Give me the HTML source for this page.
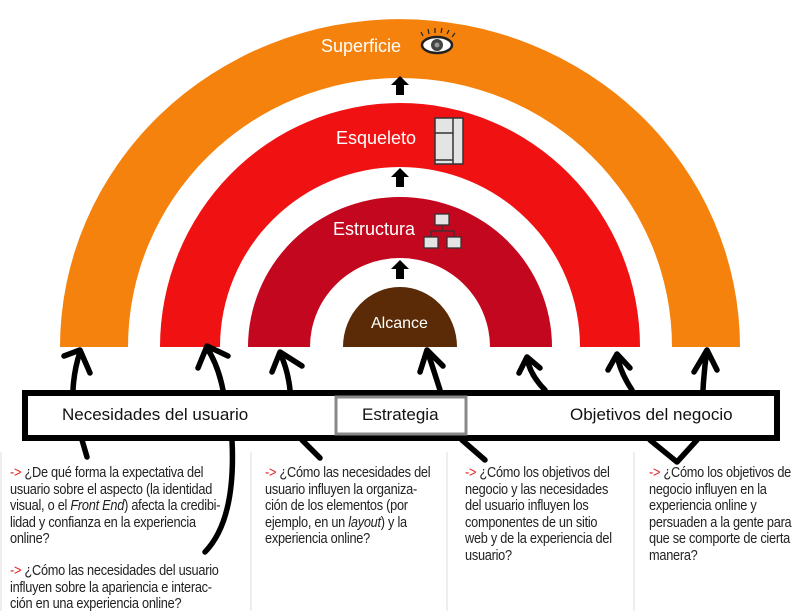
<!DOCTYPE html>
<html><head><meta charset="utf-8"><style>
body{margin:0;background:#fff;width:800px;height:611px;overflow:hidden;position:relative;font-family:"Liberation Sans",sans-serif}
svg{position:absolute;left:0;top:0}
.t{position:absolute;font-size:14.5px;line-height:16.5px;color:#222;transform-origin:0 0;transform:scaleX(0.88);white-space:nowrap;letter-spacing:-0.3px}
.t b{color:#e02020;font-weight:normal}
</style></head><body>
<svg width="800" height="611" viewBox="0 0 800 611">
<path d="M60,347 A340,328 0 0 1 740,347 L672,347 A272,269 0 0 0 128,347 Z" fill="#f5820c"/>
<path d="M160,347 A240,244 0 0 1 640,347 L580,347 A180,180 0 0 0 220,347 Z" fill="#f01212"/>
<path d="M248,347 A152,150 0 0 1 552,347 L490,347 A90,89 0 0 0 310,347 Z" fill="#c2071f"/>
<path d="M343,347 A57,60 0 0 1 457,347 Z" fill="#5a2b06"/>
<g fill="#fff" font-family="Liberation Sans,sans-serif" font-size="18">
<text x="321" y="52">Superficie</text>
<text x="336" y="144">Esqueleto</text>
<text x="333" y="235">Estructura</text>
<text x="371" y="328" font-size="16">Alcance</text>
</g>
<ellipse cx="437" cy="45" rx="15" ry="8" fill="#fff" stroke="#222" stroke-width="2.5"/>
<circle cx="437" cy="45" r="6" fill="#444"/><circle cx="437" cy="45" r="2.5" fill="#999"/>
<g stroke="#222" stroke-width="1.2"><line x1="423" y1="36" x2="421" y2="32"/><line x1="429" y1="34" x2="428" y2="29"/><line x1="435" y1="33" x2="435" y2="28"/><line x1="441" y1="33" x2="442" y2="28"/><line x1="447" y1="34" x2="449" y2="30"/><line x1="452" y1="37" x2="455" y2="33"/></g>
<g fill="#e4e4e4" stroke="#333" stroke-width="1.5"><rect x="435" y="118" width="28" height="46"/></g>
<g stroke="#333" stroke-width="1.5"><line x1="453" y1="118" x2="453" y2="164"/><line x1="435" y1="133" x2="453" y2="133"/><line x1="435" y1="160" x2="453" y2="160"/></g>
<g fill="#e4e4e4" stroke="#333" stroke-width="1.3"><rect x="435" y="214" width="14" height="11"/><rect x="424" y="237" width="14" height="11"/><rect x="447" y="237" width="14" height="11"/></g>
<path d="M442,225 V231 M431,237 V231 H454 V237" stroke="#333" stroke-width="1.3" fill="none"/>
<g fill="#000"><path d="M400,76 l-9,9 h5 v10 h8 v-10 h5 z"/><path d="M400,168 l-9,9 h5 v10 h8 v-10 h5 z"/><path d="M400,260 l-9,9 h5 v10 h8 v-10 h5 z"/></g>
<rect x="25" y="393" width="752" height="45" fill="#fff" stroke="#000" stroke-width="6"/>
<rect x="336" y="397" width="130" height="37" fill="#fff" stroke="#888" stroke-width="3"/>
<g font-family="Liberation Sans,sans-serif" font-size="17" fill="#111">
<text x="62" y="420">Necesidades del usuario</text>
<text x="362" y="420">Estrategia</text>
<text x="570" y="420">Objetivos del negocio</text>
</g>
<g stroke="#000" stroke-width="5.5" fill="none" stroke-linecap="round" stroke-linejoin="round">
<path d="M73,390 Q74,370 80,352 M64,356 L80,350 L90,373"/>
<path d="M223,390 Q218,365 207,348 M198,368 L207,346 L228,356"/>
<path d="M290,390 Q288,370 280,353 M272,372 L280,352 L302,366"/>
<path d="M440,390 Q432,365 427,350 M420,372 L427,350 L443,366"/>
<path d="M545,390 Q530,375 527,358 M519,373 L527,357 L540,368"/>
<path d="M632,390 Q620,372 617,355 M608,370 L617,354 L630,368"/>
<path d="M703,390 Q704,370 707,350 M694,372 L707,350 L717,370"/>
<path d="M82,440 L87,457"/>
<path d="M232,440 Q236,520 205,552"/>
<path d="M302,440 L320,458"/>
<path d="M462,440 L485,460"/>
<path d="M650,440 L677,462 L697,440"/>
</g>
<g stroke="#ddd" stroke-width="1"><line x1="251" y1="452" x2="251" y2="611"/><line x1="447" y1="452" x2="447" y2="611"/><line x1="634" y1="452" x2="634" y2="611"/><line x1="1" y1="452" x2="1" y2="611"/></g>
</svg>
<div class="t" style="left:10px;top:465px"><b>-&gt;</b> ¿De qué forma la expectativa del<br>usuario sobre el aspecto (la identidad<br>visual, o el <i>Front End</i>) afecta la credibi-<br>lidad y confianza en la experiencia<br>online?</div>
<div class="t" style="left:10px;top:563px"><b>-&gt;</b> ¿Cómo las necesidades del usuario<br>influyen sobre la apariencia e interac-<br>ción en una experiencia online?</div>
<div class="t" style="left:265px;top:465px"><b>-&gt;</b> ¿Cómo las necesidades del<br>usuario influyen la organiza-<br>ción de los elementos (por<br>ejemplo, en un <i>layout</i>) y la<br>experiencia online?</div>
<div class="t" style="left:465px;top:465px"><b>-&gt;</b> ¿Cómo los objetivos del<br>negocio y las necesidades<br>del usuario influyen los<br>componentes de un sitio<br>web y de la experiencia del<br>usuario?</div>
<div class="t" style="left:649px;top:465px"><b>-&gt;</b> ¿Cómo los objetivos de<br>negocio influyen en la<br>experiencia online y<br>persuaden a la gente para<br>que se comporte de cierta<br>manera?</div>
</body></html>
